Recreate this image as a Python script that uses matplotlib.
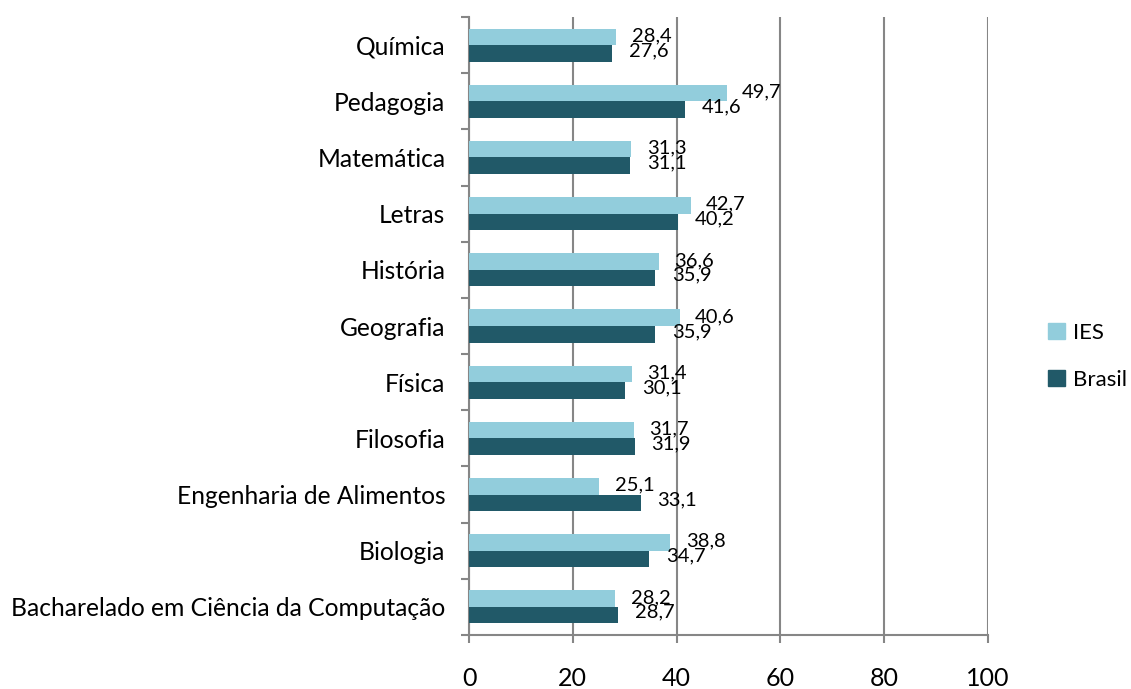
import numpy as np
import matplotlib
matplotlib.use("Agg")
import matplotlib.pyplot as plt
from matplotlib.patches import Patch

plt.rcParams["font.family"] = ["Lato", "DejaVu Sans"]

# categories bottom -> top, as drawn
categories = [
    "Bacharelado em Ciência da Computação",
    "Biologia",
    "Engenharia de Alimentos",
    "Filosofia",
    "Física",
    "Geografia",
    "História",
    "Letras",
    "Matemática",
    "Pedagogia",
    "Química",
]
ies = [28.2, 38.8, 25.1, 31.7, 31.4, 40.6, 36.6, 42.7, 31.3, 49.7, 28.4]
brasil = [28.7, 34.7, 33.1, 31.9, 30.1, 35.9, 35.9, 40.2, 31.1, 41.6, 27.6]
xticks = [0, 20, 40, 60, 80, 100]

IES_COLOR = "#92CDDC"
BRASIL_COLOR = "#215968"
GRID = "#868686"

fig = plt.figure(figsize=(11.31, 6.89), dpi=100)
ax = fig.add_axes([0.4147, 0.0784, 0.4589, 0.8969])

y = np.arange(len(categories))
h = 0.295
ax.barh(y + h / 2, ies, height=h, color=IES_COLOR, zorder=3)
ax.barh(y - h / 2, brasil, height=h, color=BRASIL_COLOR, zorder=3)

for yi, v in zip(y, ies):
    ax.annotate(f"{v:.1f}".replace(".", ","), (v, yi + h / 2 + 0.02),
                xytext=(11, 0), textcoords="offset points",
                ha="left", va="center", fontsize=14.5, color="black")
for yi, v in zip(y, brasil):
    ax.annotate(f"{v:.1f}".replace(".", ","), (v, yi - h / 2 + 0.05),
                xytext=(12, 0), textcoords="offset points",
                ha="left", va="center", fontsize=14.5, color="black")

ax.set_xlim(0, 100)
ax.set_ylim(-0.5, len(categories) - 0.5)
ax.set_xticks(xticks)
ax.set_xticklabels([str(t) for t in xticks], fontsize=18)
ax.xaxis.grid(True, color=GRID, linewidth=1.5, zorder=0)

# category labels centred on each slot, tick marks on the slot boundaries
ax.set_yticks(np.arange(len(categories) + 1) - 0.5)
ax.set_yticklabels([])
ax.set_yticks(y, minor=True)
ax.set_yticklabels(categories, minor=True, fontsize=17.7)
ax.tick_params(axis="y", which="minor", length=0, pad=17)
ax.tick_params(axis="y", which="major", length=6, color=GRID, width=1.5)
ax.tick_params(axis="x", length=6, color=GRID, width=1.5, pad=17)

for s in ["top", "right"]:
    ax.spines[s].set_visible(False)
for s in ["left", "bottom"]:
    ax.spines[s].set_color(GRID)
    ax.spines[s].set_linewidth(1.5)

handles = [Patch(color=IES_COLOR, label="IES"), Patch(color=BRASIL_COLOR, label="Brasil")]
fig.legend(handles=handles, loc="center left", bbox_to_anchor=(0.909, 0.483),
           frameon=False, fontsize=16, handlelength=0.75, handleheight=0.75,
           handletextpad=0.35, labelspacing=1.2)

fig.savefig("out.png", dpi=100)
